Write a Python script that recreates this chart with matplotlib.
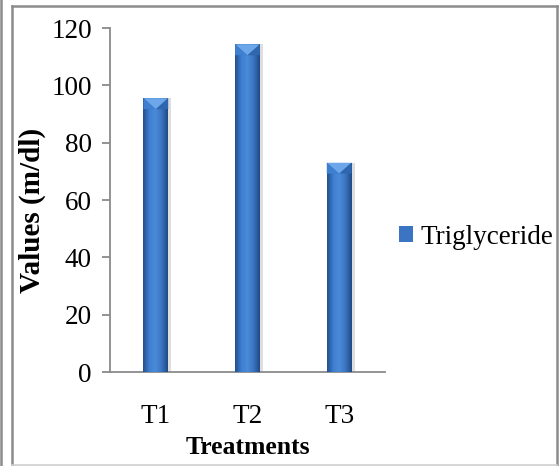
import numpy as np
import matplotlib
matplotlib.use('Agg')
import matplotlib.pyplot as plt
from matplotlib.lines import Line2D
from matplotlib.patches import Polygon
from matplotlib.colors import LinearSegmentedColormap

# data
treatments = ['T1', 'T2', 'T3']
triglyceride = [95.5, 114.3, 73.0]
yticks = [0, 20, 40, 60, 80, 100, 120]

plt.rcParams['font.family'] = ['Liberation Serif', 'DejaVu Serif']
plt.rcParams['font.size'] = 19.5

W, H = 559, 466
fig = plt.figure(figsize=(W / 100, H / 100), dpi=100)
ax = fig.add_axes([110 / W, (H - 372) / H, 275 / W, 344 / H])

x = np.arange(len(treatments))
bars = ax.bar(x, triglyceride, width=0.27, color='#3b74c2', label='Triglyceride', zorder=3)

# cylinder-ish shading + bevel on top, like the office chart
grad = LinearSegmentedColormap.from_list('bar', ['#224f8e', '#3e7fd0', '#4a8ad8', '#3a74c0', '#1f4a86'])
g = np.linspace(0, 1, 64).reshape(1, -1)
for b in bars:
    x0, w, h = b.get_x(), b.get_width(), b.get_height()
    # soft shadow to the right
    ax.add_patch(plt.Rectangle((x0 + w, 0), w * 0.12, h, color='#dedede', lw=0, zorder=2))
    im = ax.imshow(g, cmap=grad, aspect='auto', extent=(x0, x0 + w, 0, h), zorder=4)
    im.set_clip_path(b)
    d = 3.8
    ax.add_patch(Polygon([(x0, h), (x0 + w, h), (x0 + w / 2, h - d)], closed=True,
                         facecolor='#6ea6ea', edgecolor='none', zorder=5))
    ax.add_patch(Polygon([(x0, h), (x0 + w / 2, h - d), (x0, h - d)],
                         closed=True, facecolor='#3f7fd0', edgecolor='none', zorder=5))
    ax.add_patch(Polygon([(x0 + w, h), (x0 + w / 2, h - d), (x0 + w, h - d)],
                         closed=True, facecolor='#2f66b0', edgecolor='none', zorder=5))

ax.set_xlim(-0.5, len(treatments) - 0.5)
ax.set_ylim(0, 120)
ax.set_yticks(yticks)
ax.set_xticks(x)
ax.set_xticklabels(treatments)

for s in ['top', 'right']:
    ax.spines[s].set_visible(False)
for s in ['left', 'bottom']:
    ax.spines[s].set_color('#8a8a8a')
    ax.spines[s].set_linewidth(1.3)
ax.tick_params(axis='y', direction='out', length=6, width=1.3, color='#8a8a8a', pad=7)
ax.tick_params(axis='x', length=0, pad=23)

ax.set_xlabel('Treatments', fontweight='bold', va='center', fontsize=18.5)
ax.xaxis.set_label_coords(0.5, (372 - 448) / 344)
ax.set_ylabel('Values (m/dl)', fontweight='bold', va='center', fontsize=21)
ax.yaxis.set_label_coords((32 - 110) / 275, (372 - 210) / 344)

leg = ax.legend(loc='center left', bbox_to_anchor=(1.012, (372 - 237) / 344), frameon=False,
                handlelength=0.5, handleheight=0.5, handletextpad=0.3, borderaxespad=0)

# frame around the chart (in pixels)
def line(xs, ys, c='#8c8c8c', lw=1.8):
    fig.add_artist(Line2D([v / W for v in xs], [1 - v / H for v in ys],
                          color=c, lw=lw, transform=fig.transFigure))

line([1.5, 1.5], [0, H])
line([12, 12], [5.5, H])
line([12, 557], [5.5, 5.5])
line([557, 557], [5.5, H])
line([12, 557], [465, 465], c='#cfcfcf', lw=1.2)

fig.savefig('out.png', dpi=100)
